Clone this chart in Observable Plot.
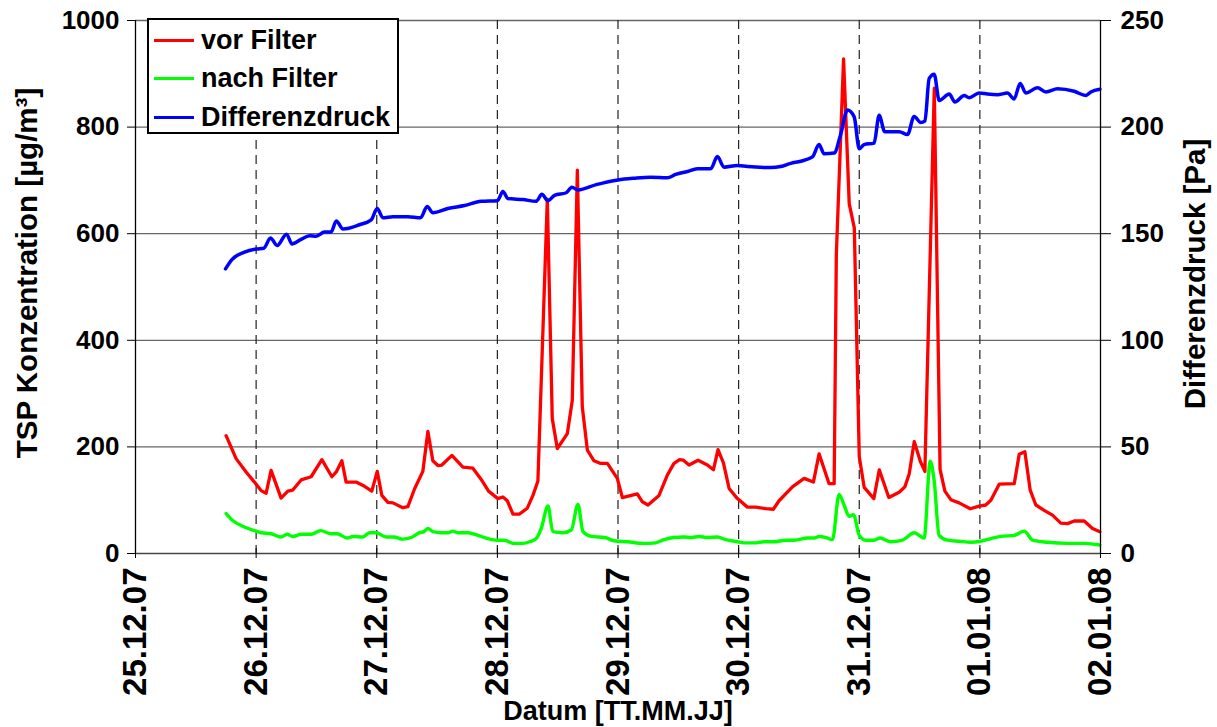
<!DOCTYPE html>
<html><head><meta charset="utf-8">
<script src="https://cdn.jsdelivr.net/npm/d3@7"></script>
<script src="https://cdn.jsdelivr.net/npm/@observablehq/plot@0.6"></script>
<style>
body{margin:0;background:#fff;}
#wrap{position:relative;width:1217px;height:727px;font-family:"Liberation Sans",Arial,sans-serif;font-weight:bold;}
#legend{position:absolute;left:147px;top:18px;width:252px;height:116px;border:2px solid #000;background:#fff;box-sizing:border-box;}
.item{position:absolute;left:5px;height:30px;display:flex;align-items:center;font-size:27px;color:#000;white-space:nowrap;}
.item span.sw{display:inline-block;width:40px;height:3px;margin-right:7px;}
</style></head>
<body><div id="wrap"><div id="chart"></div>
<div id="legend"></div></div>
<script>
// time in days since 25.12.07 00:00
const dayLabels = ["25.12.07","26.12.07","27.12.07","28.12.07","29.12.07","30.12.07","31.12.07","01.01.08","02.01.08"];
const leftTicks = [0,200,400,600,800,1000];
const seriesNames = ["vor Filter","nach Filter","Differenzdruck"];
const seriesColors = ["#ff0000","#00ff00","#0000ff"];

const redT = [0.751,0.834,0.917,0.986,1.041,1.083,1.124,1.207,1.263,1.304,1.373,1.456,1.545,1.628,1.664,1.711,1.746,1.829,1.899,1.959,2.004,2.042,2.092,2.134,2.216,2.258,2.313,2.382,2.424,2.465,2.507,2.540,2.623,2.714,2.797,2.866,2.927,3.004,3.046,3.082,3.129,3.184,3.248,3.295,3.336,3.414,3.455,3.497,3.580,3.621,3.663,3.704,3.746,3.801,3.856,3.912,3.994,4.036,4.160,4.202,4.249,4.340,4.409,4.464,4.511,4.542,4.589,4.664,4.741,4.791,4.829,4.874,4.921,4.990,5.073,5.142,5.225,5.288,5.335,5.446,5.543,5.620,5.667,5.750,5.792,5.810,5.870,5.917,5.959,6.000,6.041,6.121,6.166,6.245,6.331,6.378,6.414,6.456,6.506,6.544,6.622,6.670,6.710,6.759,6.828,6.920,6.994,7.049,7.091,7.160,7.285,7.326,7.373,7.417,7.464,7.533,7.602,7.671,7.727,7.782,7.865,7.934,7.995];
const redV = [221,178,153,134,118,113,156,104,117,119,138,144,176,144,153,174,134,134,126,117,154,109,96,95,86,88,121,154,229,174,165,166,184,162,160,139,117,103,106,99,74,74,85,109,136,665,253,197,225,287,719,275,194,174,169,169,141,105,112,97,91,109,147,169,176,175,166,175,166,157,195,170,122,103,87,87,84,83,99,125,141,134,187,131,131,560,928,656,611,182,124,103,157,105,115,125,149,210,173,154,873,158,117,101,95,84,89,91,100,130,131,186,191,119,91,81,72,57,56,61,61,47,41];

const greenT = [0.751,0.806,0.889,1.000,1.041,1.124,1.207,1.257,1.304,1.373,1.456,1.534,1.622,1.672,1.755,1.802,1.885,1.940,1.995,2.078,2.142,2.216,2.286,2.355,2.391,2.424,2.465,2.534,2.590,2.631,2.673,2.756,2.839,2.921,3.004,3.060,3.129,3.212,3.267,3.322,3.364,3.419,3.460,3.544,3.613,3.668,3.710,3.779,3.890,3.967,4.077,4.216,4.312,4.382,4.464,4.547,4.603,4.672,4.741,4.824,4.893,4.990,5.045,5.128,5.211,5.294,5.390,5.460,5.570,5.626,5.667,5.722,5.778,5.833,5.874,5.916,5.952,6.000,6.054,6.123,6.173,6.262,6.358,6.455,6.538,6.588,6.621,6.662,6.731,6.828,6.925,7.008,7.091,7.174,7.285,7.368,7.437,7.561,7.727,7.865,7.995];
const greenV = [75,62,51,42,39,37,31,36,32,36,36,43,37,37,29,32,31,39,39,31,31,27,30,39,41,47,41,39,39,42,39,39,34,28,25,25,19,19,22,28,47,89,41,39,44,92,41,32,30,24,22,19,20,26,30,31,30,32,30,31,26,22,20,20,22,22,25,25,29,29,32,30,26,111,91,70,73,34,25,25,29,22,25,39,29,173,137,34,25,23,21,23,28,32,34,42,25,21,19,19,16];

// Differenzdruck in Pa (right axis, 0-250)
const blueT = [0.746,0.801,0.898,1.000,1.064,1.119,1.174,1.252,1.298,1.368,1.445,1.498,1.567,1.622,1.664,1.720,1.857,1.954,2.004,2.051,2.134,2.258,2.363,2.418,2.465,2.590,2.728,2.866,3.000,3.046,3.087,3.212,3.322,3.369,3.419,3.474,3.571,3.618,3.668,3.820,4.000,4.133,4.271,4.409,4.478,4.575,4.658,4.769,4.824,4.879,4.990,5.073,5.266,5.349,5.432,5.515,5.612,5.667,5.708,5.792,5.847,5.902,5.958,6.000,6.040,6.123,6.165,6.212,6.331,6.400,6.455,6.510,6.544,6.580,6.621,6.663,6.746,6.793,6.870,6.911,6.994,7.063,7.146,7.229,7.284,7.334,7.381,7.478,7.547,7.644,7.782,7.879,7.920,7.995];
const blueV = [133.5,138,141.2,142.8,143.2,148,144.5,149.8,145.2,147.2,149,148.8,150.8,150.8,156,152.2,154.2,156.5,161.8,157.5,158,158,157.5,162.8,159.8,161.8,163.2,165.2,165.5,169.8,166.5,166,165.2,168.5,165.5,168,169.2,171.8,170.5,173,175.2,176,176.5,176.2,177.8,179.2,180.5,180.5,186.2,181.2,182,181.5,181,181.5,183,184,186,191.8,187.5,187.8,196.8,208,204.8,189.8,191.8,192.5,205.5,197.8,197.8,196.5,205,202.2,202.8,222.8,224.8,212.5,215.5,211.8,214.8,213.8,216,215.5,215.2,216,213.2,220.5,216,218.5,216.5,218,216.8,214.8,216.5,217.8];

const start = Date.UTC(2007,11,25);
const toDate = t => new Date(start + t*86400000);
const dayTicks = dayLabels.map((_,i) => toDate(i));
const fmt = d => dayLabels[Math.round((d - start)/86400000)];
const red = redT.map((t,i)=>({date:toDate(t), v:redV[i]}));
const green = greenT.map((t,i)=>({date:toDate(t), v:greenV[i]}));
const blue = blueT.map((t,i)=>({date:toDate(t), v:blueV[i]*4}));
const FONT = '"Liberation Sans", Arial, sans-serif';

const chart = Plot.plot({
  width:1217, height:727,
  marginLeft:135, marginRight:117, marginTop:20, marginBottom:174,
  style:{fontFamily:FONT, fontWeight:"bold", color:"#000", background:"#fff"},
  x:{type:"utc", domain:[dayTicks[0], dayTicks[8]]},
  y:{domain:[0,1000]},
  marks:[
    Plot.ruleY(leftTicks.slice(1), {stroke:"#666", strokeWidth:1.3}),
    Plot.ruleX(dayTicks.slice(1,8), {stroke:"#222", strokeWidth:1.2, strokeDasharray:"9,6"}),
    Plot.line(red, {x:"date", y:"v", stroke:seriesColors[0], strokeWidth:3.3, strokeLinejoin:"round"}),
    Plot.line(green, {x:"date", y:"v", stroke:seriesColors[1], strokeWidth:3.4, curve:"monotone-x"}),
    Plot.line(blue, {x:"date", y:"v", stroke:seriesColors[2], strokeWidth:3.5, curve:"monotone-x"}),
    Plot.ruleX([dayTicks[0], dayTicks[8]], {stroke:"#000", strokeWidth:1.3}),
    Plot.ruleY([0], {stroke:"#444", strokeWidth:1.5}),
    Plot.axisY({ticks:leftTicks, tickFormat:d=>String(d), tickSize:8, tickPadding:8, fontSize:26, label:null}),
    Plot.axisY({ticks:leftTicks, anchor:"right", tickFormat:d=>String(d/4), tickSize:10, tickPadding:10, fontSize:26, label:null}),
    Plot.axisX({ticks:dayTicks, tickFormat:fmt, tickRotate:-90, tickSize:5, tickPadding:9, fontSize:33, label:null}),
    Plot.axisX({ticks:dayTicks, tickSize:5, dy:-5, text:null, label:null}),
    Plot.text(["TSP Konzentration [µg/m³]"], {frameAnchor:"left", textAnchor:"middle", rotate:-90, dx:-108, dy:-14, fontSize:29.5, fontWeight:"bold"}),
    Plot.text(["Differenzdruck [Pa]"], {frameAnchor:"right", textAnchor:"middle", rotate:-90, dx:95, dy:-13, fontSize:29.5, fontWeight:"bold"}),
    Plot.text(["Datum [TT.MM.JJ]"], {frameAnchor:"bottom", dy:166, fontSize:27, fontWeight:"bold"})
  ]
});
document.getElementById("chart").appendChild(chart);

const lg = document.getElementById("legend");
seriesNames.forEach((n,i)=>{
  const it = document.createElement("div");
  it.className = "item";
  it.style.top = (5 + i*38.5) + "px";
  it.innerHTML = `<span class="sw" style="background:${seriesColors[i]}"></span>${n}`;
  lg.appendChild(it);
});
</script></body></html>
